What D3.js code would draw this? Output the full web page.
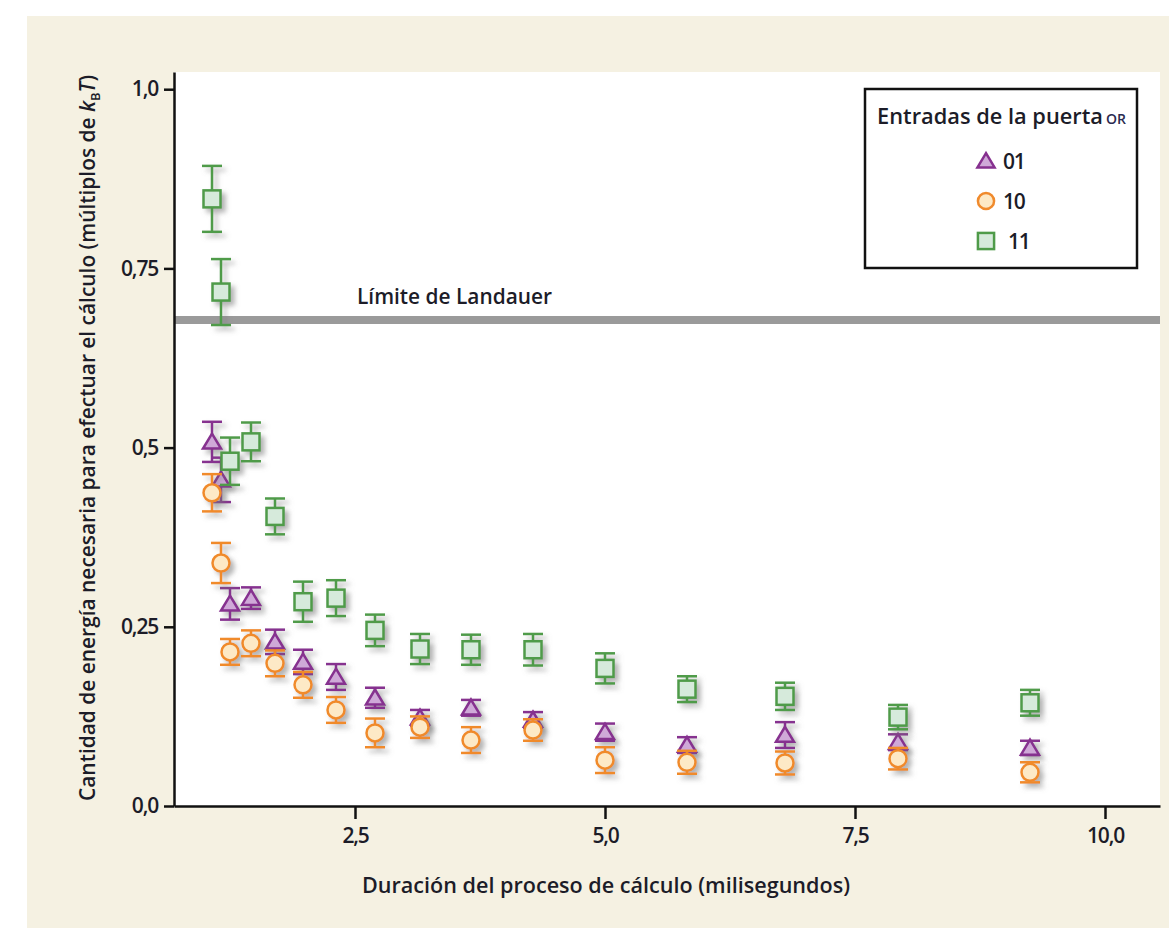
<!DOCTYPE html>
<html><head><meta charset="utf-8">
<script src="https://cdn.jsdelivr.net/npm/d3@7"></script>
<style>body{margin:0;background:#fff} svg{display:block}</style>
</head><body>
<svg id="c" width="1169" height="928"></svg>
<script>
// ---- data ----
const durations = [1.07, 1.16, 1.25, 1.46, 1.70, 1.98, 2.31, 2.70, 3.15, 3.66, 4.28, 5.00, 5.82, 6.80, 7.93, 9.25];
const energy01 = [0.508, 0.455, 0.282, 0.290, 0.229, 0.201, 0.180, 0.151, 0.123, 0.137, 0.120, 0.103, 0.085, 0.099, 0.089, 0.081];
const error01  = [0.028, 0.031, 0.022, 0.015, 0.017, 0.017, 0.018, 0.014, 0.011, 0.011, 0.011, 0.012, 0.011, 0.018, 0.011, 0.010];
const energy10 = [0.437, 0.339, 0.215, 0.227, 0.199, 0.169, 0.134, 0.102, 0.110, 0.092, 0.106, 0.064, 0.061, 0.060, 0.066, 0.047];
const error10  = [0.026, 0.028, 0.018, 0.018, 0.018, 0.018, 0.018, 0.020, 0.015, 0.018, 0.015, 0.018, 0.016, 0.016, 0.015, 0.014];
const energy11 = [0.847, 0.717, 0.481, 0.508, 0.404, 0.285, 0.290, 0.245, 0.219, 0.218, 0.218, 0.192, 0.163, 0.153, 0.124, 0.144];
const error11  = [0.046, 0.046, 0.033, 0.027, 0.025, 0.028, 0.025, 0.022, 0.021, 0.021, 0.022, 0.021, 0.018, 0.019, 0.017, 0.018];
const seriesNames = ["01", "10", "11"];
const xTickValues = [2.5, 5.0, 7.5, 10.0];
const xTickLabels = ["2,5", "5,0", "7,5", "10,0"];
const yTickValues = [0, 0.25, 0.5, 0.75, 1.0];
const yTickLabels = ["0,0", "0,25", "0,5", "0,75", "1,0"];
const landauerLimit = 0.678;
const landauerLabel = "Límite de Landauer";
const xTitle = "Duración del proceso de cálculo (milisegundos)";
const legendTitle = "Entradas de la puerta";

// ---- styles ----
const FONT = "'Open Sans', 'DejaVu Sans', sans-serif";
const TXT = "#1c1c28";
const styles = {
  "01": {shape: "triangle", stroke: "#86308f", fill: "#cfa9d8"},
  "10": {shape: "circle", stroke: "#f08a2c", fill: "#fde9c6"},
  "11": {shape: "square", stroke: "#4f9b49", fill: "#d6eadb"}
};
const series = [
  {name: "01", values: energy01, errors: error01},
  {name: "10", values: energy10, errors: error10},
  {name: "11", values: energy11, errors: error11}
];

const svg = d3.select("#c");
const defs = svg.append("defs");
const f = defs.append("filter").attr("id", "sh").attr("x", "-50%").attr("y", "-50%").attr("width", "200%").attr("height", "200%");
f.append("feDropShadow").attr("dx", 4).attr("dy", 4).attr("stdDeviation", 2.5)
  .attr("flood-color", "#777").attr("flood-opacity", 0.55);

// background panel
svg.append("rect").attr("x", 27).attr("y", 16).attr("width", 1142).attr("height", 912).attr("fill", "#f5f1e2");

const x = d3.scaleLinear().domain([0.69, 10.55]).range([174, 1160]);
const y = d3.scaleLinear().domain([0, 1.024]).range([806, 72]);

// plot area
svg.append("rect").attr("x", x.range()[0]).attr("y", y.range()[1])
  .attr("width", x.range()[1] - x.range()[0]).attr("height", y.range()[0] - y.range()[1]).attr("fill", "#fff");

// Landauer limit
svg.append("line").attr("x1", x.range()[0]).attr("x2", x.range()[1])
  .attr("y1", y(landauerLimit)).attr("y2", y(landauerLimit))
  .attr("stroke", "#9a9a9a").attr("stroke-width", 8);
svg.append("text").attr("x", x(2.52)).attr("y", y(landauerLimit) - 16)
  .attr("font-family", FONT).attr("font-size", 21).attr("font-weight", 600).attr("fill", TXT)
  .attr("textLength", 195).attr("lengthAdjust", "spacingAndGlyphs")
  .text(landauerLabel);

// axes
const yAxis = d3.axisLeft(y).tickValues(yTickValues).tickSize(10).tickSizeOuter(0).tickPadding(6)
  .tickFormat((d, i) => yTickLabels[i]);
const xAxis = d3.axisBottom(x).tickValues(xTickValues).tickSize(13).tickSizeOuter(0).tickPadding(9)
  .tickFormat((d, i) => xTickLabels[i]);
const gy = svg.append("g").attr("transform", `translate(${x.range()[0]},0)`).call(yAxis);
const gx = svg.append("g").attr("transform", `translate(0,${y.range()[0]})`).call(xAxis);
[gx, gy].forEach(g => {
  g.select(".domain").attr("stroke", "#111").attr("stroke-width", 2.5);
  g.selectAll(".tick line").attr("stroke", "#111").attr("stroke-width", 2.5);
  g.selectAll(".tick text").attr("font-family", FONT).attr("font-size", 21)
    .attr("font-weight", 600).attr("fill", TXT).attr("letter-spacing", -1.2);
});

// axis titles
svg.append("text").attr("x", 606).attr("y", 893).attr("text-anchor", "middle")
  .attr("font-family", FONT).attr("font-size", 22).attr("font-weight", 600).attr("fill", TXT)
  .attr("textLength", 488).attr("lengthAdjust", "spacingAndGlyphs").text(xTitle);

const yt = svg.append("text").attr("transform", "translate(95,438) rotate(-90)").attr("text-anchor", "middle")
  .attr("font-family", FONT).attr("font-size", 21).attr("font-weight", 600).attr("fill", TXT)
  .attr("textLength", 726).attr("lengthAdjust", "spacingAndGlyphs");
yt.append("tspan").text("Cantidad de energía necesaria para efectuar el cálculo (múltiplos de ");
yt.append("tspan").attr("font-style", "italic").text("k");
yt.append("tspan").attr("font-size", 13).attr("dy", 5).text("B");
yt.append("tspan").attr("font-style", "italic").attr("dy", -5).text("T");
yt.append("tspan").text(")");

// marker helper
function drawMarker(g, shape, cx, cy, st, s) {
  if (shape === "triangle") {
    const w = 9 * s, h = 15 * s;
    g.append("path").attr("d", `M${cx},${cy - h * 0.55} L${cx + w},${cy + h * 0.45} L${cx - w},${cy + h * 0.45} Z`)
      .attr("fill", st.fill).attr("stroke", st.stroke).attr("stroke-width", 2.5).attr("stroke-linejoin", "miter");
  } else if (shape === "circle") {
    g.append("circle").attr("cx", cx).attr("cy", cy).attr("r", 8.5 * s)
      .attr("fill", st.fill).attr("stroke", st.stroke).attr("stroke-width", 2.5);
  } else {
    const h = 8.5 * s;
    g.append("rect").attr("x", cx - h).attr("y", cy - h).attr("width", 2 * h).attr("height", 2 * h)
      .attr("fill", st.fill).attr("stroke", st.stroke).attr("stroke-width", 2.5);
  }
}

// series
series.forEach(sr => {
  const st = styles[sr.name];
  const g = svg.append("g").attr("filter", "url(#sh)");
  durations.forEach((d, i) => {
    const cx = x(d), v = sr.values[i], e = sr.errors[i];
    const y1 = y(v + e), y2 = y(v - e);
    const pt = g.append("g");
    pt.append("line").attr("x1", cx).attr("x2", cx).attr("y1", y1).attr("y2", y2)
      .attr("stroke", st.stroke).attr("stroke-width", 2.5);
    [y1, y2].forEach(yy => pt.append("line").attr("x1", cx - 10).attr("x2", cx + 10).attr("y1", yy).attr("y2", yy)
      .attr("stroke", st.stroke).attr("stroke-width", 2.5));
    drawMarker(pt, st.shape, cx, y(v), st, 1);
  });
});

// legend
const lg = svg.append("g");
lg.append("rect").attr("x", 865).attr("y", 89).attr("width", 272).attr("height", 179)
  .attr("fill", "#fff").attr("stroke", "#111").attr("stroke-width", 2.5);
lg.append("text").attr("x", 877).attr("y", 124).attr("font-family", FONT).attr("font-size", 21)
  .attr("font-weight", 600).attr("fill", TXT)
  .attr("textLength", 226).attr("lengthAdjust", "spacingAndGlyphs").text(legendTitle);
lg.append("text").attr("x", 1106).attr("y", 124).attr("font-family", FONT).attr("font-size", 14)
  .attr("font-weight", 600).attr("fill", "#2a2a50").text("OR");
seriesNames.forEach((n, i) => {
  const cy = 161 + i * 40;
  drawMarker(lg, styles[n].shape, 986, cy, styles[n], 0.95);
  lg.append("text").attr("x", n === "11" ? 1008 : 1003).attr("y", cy + 8).attr("font-family", FONT)
    .attr("font-size", 21).attr("font-weight", 600).attr("fill", TXT).attr("letter-spacing", -1.2).text(n);
});
</script>
</body></html>
